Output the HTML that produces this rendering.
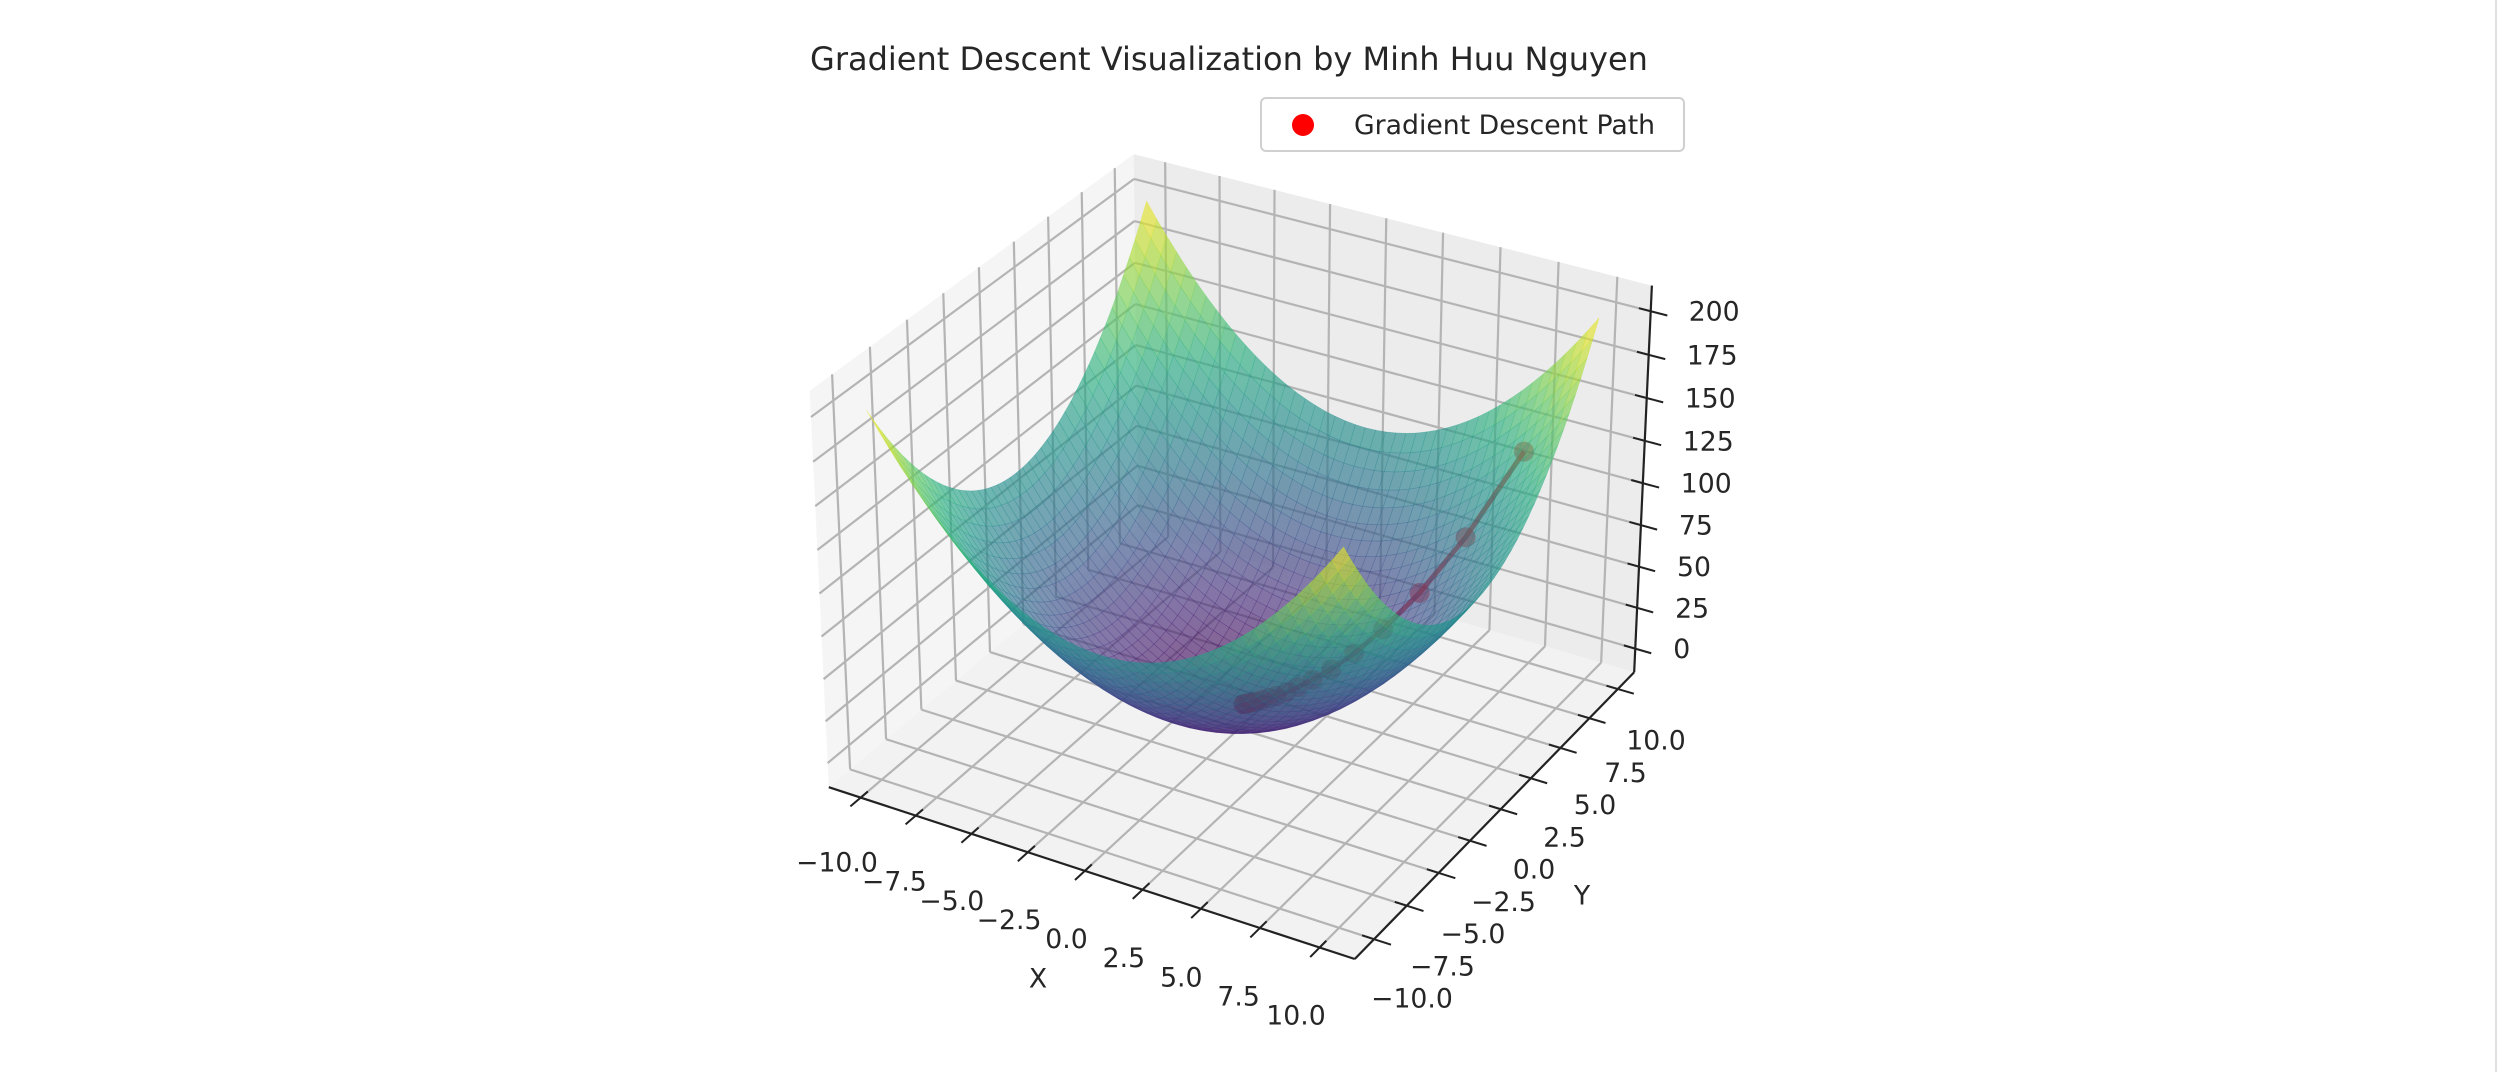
<!DOCTYPE html>
<html>
<head>
<meta charset="utf-8">
<style>
  html,body{margin:0;padding:0;background:#ffffff;}
  body{width:2508px;height:1072px;overflow:hidden;position:relative;font-family:"DejaVu Sans","Liberation Sans",sans-serif;}
  svg text{font-family:"DejaVu Sans","Liberation Sans",sans-serif;fill:#262626;}
</style>
</head>
<body>
<svg id="chart" width="2508" height="1072" viewBox="0 0 2508 1072" xmlns="http://www.w3.org/2000/svg">
  <rect x="0" y="0" width="2508" height="1072" fill="#ffffff"/>
  <line x1="2496" y1="0" x2="2496" y2="1072" stroke="#e0e0e0" stroke-width="2"/>
  <text x="1229" y="70" font-size="32" text-anchor="middle">Gradient Descent Visualization by Minh Huu Nguyen</text>
  <g id="panes"></g>
  <g id="grid"></g>
  <g id="axes"></g>
  <g id="path"></g>
  <g id="surface"></g>
  <g id="labels"></g>
  <g>
    <rect x="1261" y="98" width="423" height="53" rx="5" ry="5" fill="#ffffff" fill-opacity="0.8" stroke="#d0d0d0" stroke-width="2"/>
    <circle cx="1303" cy="125" r="11" fill="#ff0000"/>
    <text x="1354" y="134" font-size="26.7">Gradient Descent Path</text>
  </g>
</svg>
<script>
// ---- data ----
const xTickVals = [-10, -7.5, -5, -2.5, 0, 2.5, 5, 7.5, 10];
const xTickLabels = ["\u221210.0", "\u22127.5", "\u22125.0", "\u22122.5", "0.0", "2.5", "5.0", "7.5", "10.0"];
const yTickVals = [-10, -7.5, -5, -2.5, 0, 2.5, 5, 7.5, 10];
const yTickLabels = ["\u221210.0", "\u22127.5", "\u22125.0", "\u22122.5", "0.0", "2.5", "5.0", "7.5", "10.0"];
const zTickVals = [0, 25, 50, 75, 100, 125, 150, 175, 200];
const zTickLabels = ["0", "25", "50", "75", "100", "125", "150", "175", "200"];
const pathX = [8, 6.4, 5.12, 4.096, 3.277, 2.621, 2.097, 1.678, 1.342, 1.074, 0.859, 0.687, 0.55, 0.44, 0.352, 0.281, 0.225, 0.18, 0.144, 0.115];
const pathY = [8, 6.4, 5.12, 4.096, 3.277, 2.621, 2.097, 1.678, 1.342, 1.074, 0.859, 0.687, 0.55, 0.44, 0.352, 0.281, 0.225, 0.18, 0.144, 0.115];
const pathZ = [128, 81.92, 52.43, 33.55, 21.47, 13.74, 8.8, 5.63, 3.6, 2.31, 1.48, 0.94, 0.6, 0.39, 0.25, 0.16, 0.1, 0.065, 0.041, 0.026];
const surfRange = [-10, 10];
const surfN = 44;

// ---- axis limits ----
const xlim = [-11, 11], ylim = [-11, 11], zlim = [-10, 210];
const pad = (l) => (l[1] - l[0]) / 48;
const X0 = xlim[0] - pad(xlim), X1 = xlim[1] + pad(xlim);
const Y0 = ylim[0] - pad(ylim), Y1 = ylim[1] + pad(ylim);
const Z0 = zlim[0] - pad(zlim), Z1 = zlim[1] + pad(zlim);

// ---- projection ----
const nrm = Math.sqrt(16 + 16 + 9);
const ba = [4 * 1.8294640721620434 / nrm, 4 * 1.8294640721620434 / nrm, 3 * 1.8294640721620434 / nrm];
const elev = 30 * Math.PI / 180, azim = -60 * Math.PI / 180, dist = 10;
const ps = [Math.cos(elev) * Math.cos(azim), Math.cos(elev) * Math.sin(azim), Math.sin(elev)];
const Rc = [ba[0] / 2, ba[1] / 2, ba[2] / 2];
const eye = [Rc[0] + dist * ps[0], Rc[1] + dist * ps[1], Rc[2] + dist * ps[2]];
const wv = ps;
let uv = [-wv[1], wv[0], 0];
const ul = Math.hypot(uv[0], uv[1]); uv = [uv[0] / ul, uv[1] / ul, 0];
const vv = [wv[1] * uv[2] - wv[2] * uv[1], wv[2] * uv[0] - wv[0] * uv[2], wv[0] * uv[1] - wv[1] * uv[0]];
function raw(x, y, z) {
  const p = [(x - xlim[0]) / (xlim[1] - xlim[0]) * ba[0] - eye[0],
             (y - ylim[0]) / (ylim[1] - ylim[0]) * ba[1] - eye[1],
             (z - zlim[0]) / (zlim[1] - zlim[0]) * ba[2] - eye[2]];
  const a = uv[0] * p[0] + uv[1] * p[1] + uv[2] * p[2];
  const b = vv[0] * p[0] + vv[1] * p[1] + vv[2] * p[2];
  const c = wv[0] * p[0] + wv[1] * p[1] + wv[2] * p[2];
  return [a / -c, b / -c, -c];
}
const refPts = [[X0, Y1, Z1, 1133, 158], [X0, Y0, Z1, 808, 392], [X0, Y0, Z0, 826, 767],
                [X1, Y0, Z0, 1355, 966], [X1, Y1, Z0, 1637, 677], [X1, Y1, Z1, 1654, 289]];
let mX = 0, mY = 0, mx = 0, my = 0;
const rp = refPts.map(r => raw(r[0], r[1], r[2]));
rp.forEach((p, i) => { mX += p[0]; mY += p[1]; mx += refPts[i][3]; my += refPts[i][4]; });
mX /= 6; mY /= 6; mx /= 6; my /= 6;
let num = 0, den = 0;
rp.forEach((p, i) => {
  num += (p[0] - mX) * (refPts[i][3] - mx) - (p[1] - mY) * (refPts[i][4] - my);
  den += (p[0] - mX) ** 2 + (p[1] - mY) ** 2;
});
const S = num / den, TX = mx - S * mX, TY = my + S * mY;
function P(x, y, z) { const r = raw(x, y, z); return [TX + S * r[0], TY - S * r[1], r[2]]; }

const NS = "http://www.w3.org/2000/svg";
function mk(tag, parent) { const e = document.createElementNS(NS, tag); parent.appendChild(e); return e; }
function pts(arr) { return arr.map(p => p[0].toFixed(1) + "," + p[1].toFixed(1)).join(" "); }

// ---- panes ----
const gP = document.getElementById("panes");
const paneDefs = [
  [[P(X0, Y0, Z0), P(X0, Y1, Z0), P(X0, Y1, Z1), P(X0, Y0, Z1)], "#f5f5f5", "pane-x"],
  [[P(X0, Y1, Z0), P(X1, Y1, Z0), P(X1, Y1, Z1), P(X0, Y1, Z1)], "#ececec", "pane-y"],
  [[P(X0, Y0, Z0), P(X1, Y0, Z0), P(X1, Y1, Z0), P(X0, Y1, Z0)], "#f2f2f2", "pane-floor"]
];
paneDefs.forEach(d => {
  const e = mk("polygon", gP);
  e.setAttribute("points", pts(d[0]));
  e.setAttribute("fill", d[1]);
  
  
});

// ---- grid ----
const gG = document.getElementById("grid");
function gline(a, b, name) {
  const e = mk("line", gG);
  e.setAttribute("x1", a[0]); e.setAttribute("y1", a[1]);
  e.setAttribute("x2", b[0]); e.setAttribute("y2", b[1]);
  e.setAttribute("stroke", "#b4b4b4"); e.setAttribute("stroke-width", "2.2");
  
  
}
yTickVals.forEach(t => { gline(P(X0, t, Z0), P(X0, t, Z1), "grid-line-y"); gline(P(X0, t, Z0), P(X1, t, Z0), "grid-line-y"); });
xTickVals.forEach(t => { gline(P(t, Y1, Z0), P(t, Y1, Z1), "grid-line-x"); gline(P(t, Y0, Z0), P(t, Y1, Z0), "grid-line-x"); });
zTickVals.forEach(t => { gline(P(X0, Y0, t), P(X0, Y1, t), "grid-line-z"); gline(P(X0, Y1, t), P(X1, Y1, t), "grid-line-z"); });

// ---- axis lines & ticks ----
const gA = document.getElementById("axes");
function aline(a, b, name, w) {
  const e = mk("line", gA);
  e.setAttribute("x1", a[0]); e.setAttribute("y1", a[1]);
  e.setAttribute("x2", b[0]); e.setAttribute("y2", b[1]);
  e.setAttribute("stroke", "#222222"); e.setAttribute("stroke-width", w);
  
  
}
aline(P(X0, Y0, Z0), P(X1, Y0, Z0), "x-axis-line", 2.2);
aline(P(X1, Y0, Z0), P(X1, Y1, Z0), "y-axis-line", 2.2);
aline(P(X1, Y1, Z0), P(X1, Y1, Z1), "z-axis-line", 2.2);
xTickVals.forEach(t => aline(P(t, Y0 + 0.5, Z0), P(t, Y0 - 0.7, Z0), "x-tick", 2));
yTickVals.forEach(t => aline(P(X1 - 0.5, t, Z0), P(X1 + 0.7, t, Z0), "y-tick", 2));
zTickVals.forEach(t => aline(P(X1 - 0.5, Y1, t), P(X1 + 0.7, Y1, t), "z-tick", 2));

// ---- path ----
const gPath = document.getElementById("path");
const pathPts = pathX.map((x, i) => P(x, pathY[i], pathZ[i]));
const pl = mk("polyline", gPath);
pl.setAttribute("points", pts(pathPts));
pl.setAttribute("fill", "none");
pl.setAttribute("stroke", "#e00000");
pl.setAttribute("stroke-width", "5");
pl.setAttribute("stroke-opacity", "0.7");


pathPts.forEach(p => {
  const c = mk("circle", gPath);
  c.setAttribute("cx", p[0].toFixed(1)); c.setAttribute("cy", p[1].toFixed(1));
  c.setAttribute("r", "10");
  c.setAttribute("fill", "#ff0000");
  c.setAttribute("fill-opacity", "0.5");
  
  
});

// ---- surface ----
const vir = [[0, 68, 1, 84], [0.125, 71, 45, 123], [0.25, 59, 82, 139], [0.375, 44, 114, 142], [0.5, 33, 145, 140],
             [0.625, 40, 174, 128], [0.75, 94, 201, 98], [0.875, 173, 220, 48], [1, 253, 231, 37]];
function viridis(t) {
  t = Math.max(0, Math.min(1, t));
  for (let i = 1; i < vir.length; i++) {
    if (t <= vir[i][0]) {
      const a = vir[i - 1], b = vir[i], f = (t - a[0]) / (b[0] - a[0]);
      return "rgb(" + [1, 2, 3].map(k => Math.round(a[k] + f * (b[k] - a[k]))).join(",") + ")";
    }
  }
  return "rgb(253,231,37)";
}
const gS = document.getElementById("surface");
const step = (surfRange[1] - surfRange[0]) / surfN;
const faces = [];
const fz = (x, y) => x * x + y * y;
for (let i = 0; i < surfN; i++) {
  for (let j = 0; j < surfN; j++) {
    const xa = surfRange[0] + i * step, xb = xa + step;
    const ya = surfRange[0] + j * step, yb = ya + step;
    const q = [[xa, ya], [xb, ya], [xb, yb], [xa, yb]];
    const zs = q.map(c => fz(c[0], c[1]));
    const zavg = (zs[0] + zs[1] + zs[2] + zs[3]) / 4;
    const pp = q.map((c, k) => P(c[0], c[1], zs[k]));
    const depth = (pp[0][2] + pp[1][2] + pp[2][2] + pp[3][2]) / 4;
    faces.push({ pp, zavg, depth });
  }
}
faces.sort((a, b) => b.depth - a.depth);
faces.forEach(f => {
  const e = mk("polygon", gS);
  const col = viridis(f.zavg / 200);
  e.setAttribute("points", pts(f.pp));
  e.setAttribute("fill", col);
  e.setAttribute("fill-opacity", "0.64");
  e.setAttribute("stroke", col);
  e.setAttribute("stroke-width", "0.6");
  e.setAttribute("stroke-opacity", "0.35");
  
  
});

// ---- tick labels ----
const gL = document.getElementById("labels");
function label(txt, x, y, name, anchor) {
  const e = mk("text", gL);
  e.setAttribute("x", x.toFixed(1)); e.setAttribute("y", (y + 9.5).toFixed(1));
  e.setAttribute("font-size", "26.7");
  e.setAttribute("text-anchor", anchor || "middle");
  e.textContent = txt;
  
  
}
const xLabA = [837, 862], xLabB = [1296, 1015];
xTickVals.forEach((t, i) => { const f = (t + 10) / 20; label(xTickLabels[i], xLabA[0] + f * (xLabB[0] - xLabA[0]), xLabA[1] + f * (xLabB[1] - xLabA[1]), "x-tick-label"); });
const yLabA = [1412, 998], yLabB = [1656, 740];
yTickVals.forEach((t, i) => { const f = (t + 10) / 20; label(yTickLabels[i], yLabA[0] + f * (yLabB[0] - yLabA[0]), yLabA[1] + f * (yLabB[1] - yLabA[1]), "y-tick-label"); });
zTickVals.forEach((t, i) => {
  const p = P(X1, Y1, t);
  label(zTickLabels[i], p[0] + 38, p[1], "z-tick-label", "start");
});
label("X", 1038, 978, "x-axis-title");
label("Y", 1582, 895, "y-axis-title");
</script>
</body>
</html>
